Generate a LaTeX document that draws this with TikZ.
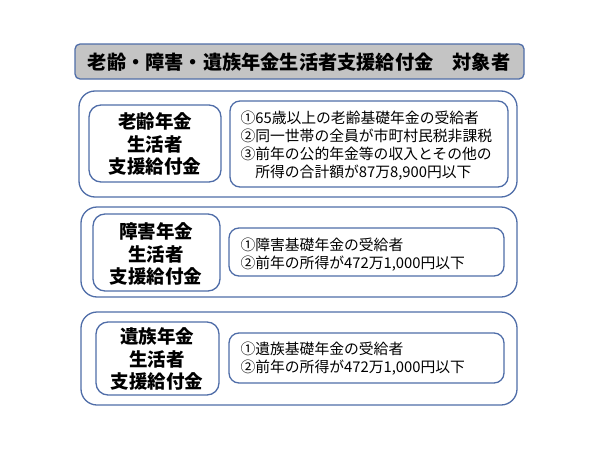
\documentclass[tikz,border=0pt]{standalone}
\usepackage{fontspec}
\newfontfamily\jp{Noto Sans CJK JP}
\definecolor{bord}{HTML}{4F6DA8}
\definecolor{tfill}{HTML}{C4C4C4}
\begin{document}
\begin{tikzpicture}[x=1pt,y=-1pt,
  titlebox/.style={draw=bord,line width=1.3pt,fill=tfill,rounded corners=5pt},
  outerbox/.style={draw=bord,line width=1.3pt,rounded corners=16pt},
  namebox/.style={draw=bord,line width=1.3pt,rounded corners=12pt},
  condbox/.style={draw=bord,line width=1.3pt,rounded corners=10pt},
  nametext/.style={font=\jp\bfseries\fontsize{18.5}{22.5}\selectfont,align=center},
  condtext/.style={font=\jp\fontsize{14.8}{18}\selectfont,align=left,anchor=west}]
\useasboundingbox (0,0) rectangle (600,450);
% title
\draw[titlebox] (75,44) rectangle (524,79);
\node[font=\jp\bfseries\fontsize{19.2}{22}\selectfont] (title) at (299,62) {老齢・障害・遺族年金生活者支援給付金　対象者};
% group 1
\draw[outerbox] (79,91) rectangle (517,197);
\draw[namebox] (89,105) rectangle (221,182);
\draw[condbox] (230,101) rectangle (508,187);
\node[nametext] (n1) at (155,144) {老齢年金\\生活者\\支援給付金};
\node[condtext] (c1) at (237,146) {①65歳以上の老齢基礎年金の受給者\\②同一世帯の全員が市町村民税非課税\\③前年の公的年金等の収入とその他の\\\hspace*{1em}所得の合計額が87万8,900円以下};
% group 2
\draw[outerbox] (81,207) rectangle (517,297);
\draw[namebox] (93,214) rectangle (220,291);
\draw[condbox] (229,228) rectangle (504,276);
\node[nametext] (n2) at (156,254) {障害年金\\生活者\\支援給付金};
\node[condtext] (c2) at (237,254.5) {①障害基礎年金の受給者\\②前年の所得が472万1,000円以下};
% group 3
\draw[outerbox] (81,312) rectangle (517,405);
\draw[namebox] (96,322) rectangle (219,395);
\draw[condbox] (229,333) rectangle (504,383);
\node[nametext] (n3) at (157,359) {遺族年金\\生活者\\支援給付金};
\node[condtext] (c3) at (237,358.5) {①遺族基礎年金の受給者\\②前年の所得が472万1,000円以下};
\end{tikzpicture}
\end{document}
